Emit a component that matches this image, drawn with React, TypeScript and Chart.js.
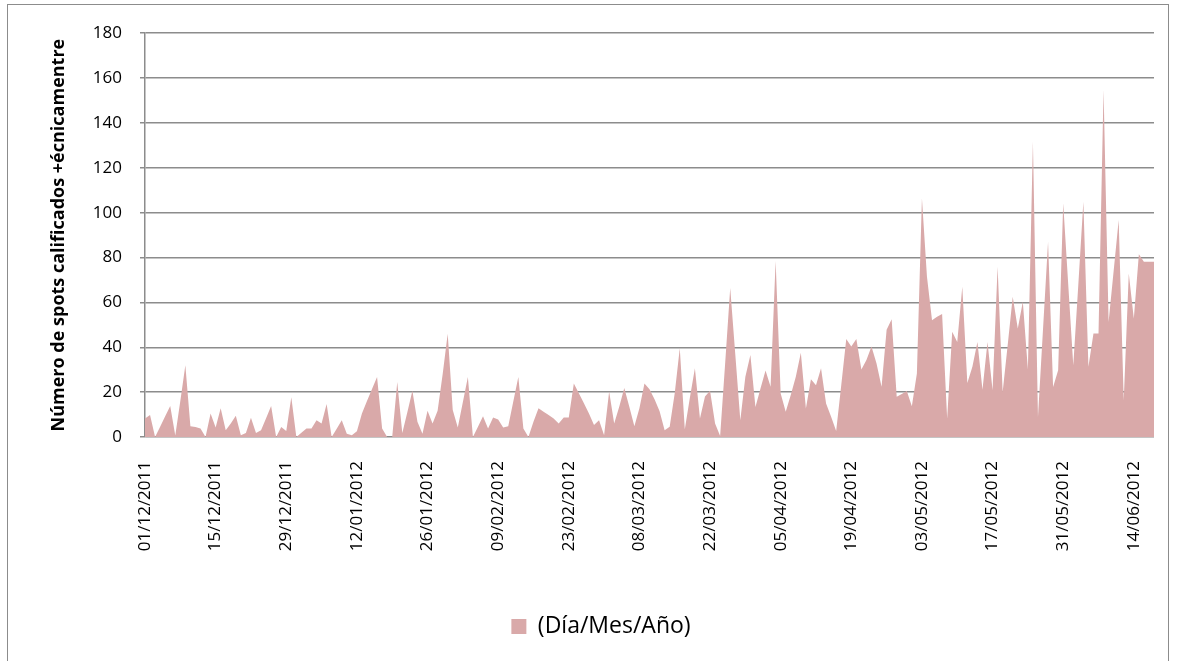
import React, { useEffect, useRef } from 'react';
import { Chart, registerables } from 'chart.js';

Chart.register(...registerables);

// ---- data ----
const startYear = 2011;
const startMonth = 12; // December
const startDay = 1;
const dayCount = 201; // 01/12/2011 .. 18/06/2012
const tickEvery = 14;

const seriesLabel = '(Día/Mes/Año)';
const yAxisTitle = 'Número de spots calificados +écnicamentre';
const yTickValues = [0, 20, 40, 60, 80, 100, 120, 140, 160, 180];

const spots = [
  8.3, 9.8, 0, 4.6, 9.2, 13.8, 0.7, 16, 32, 4.8,
  4.5, 3.8, 0, 10.5, 4.2, 12.8, 3, 6, 9.5, 0.8,
  1.8, 8.6, 1.8, 3, 8.4, 13.8, 0, 4.5, 2.7, 17.7,
  0, 1.9, 3.8, 3.8, 7.5, 6, 14.7, 0, 3.7, 7.5,
  1.5, 0.8, 2.6, 10.5, 16, 21.4, 26.8, 3.8, 0, 0,
  24.5, 1.8, 11, 20.6, 6.8, 1.5, 11.7, 6, 11.7, 28,
  46, 12, 4.2, 15.5, 26.8, 0, 4.6, 9.3, 3.8, 8.7,
  7.8, 4.2, 4.8, 15.8, 26.8, 3.8, 0, 6.8, 12.8, 11.3,
  9.8, 8.3, 6, 8.7, 8.7, 23.8, 19.5, 15, 10.5, 5.3,
  7.5, 0.8, 20.3, 6, 13.5, 21.8, 13.5, 4.8, 12.8, 23.8,
  21.3, 16.8, 11.5, 3, 4.6, 19.5, 39.6, 3.4, 17.5, 30.7,
  8.3, 18, 20.6, 6, 0.5, 33, 66.4, 37, 7.5, 26.9,
  36.6, 13.4, 21.6, 29.6, 22.4, 78.4, 19.4, 11.2, 18.7, 26.9,
  37.6, 12.7, 25.7, 23.1, 30.6, 14.9, 9, 2.7, 23, 43.7,
  40.3, 43.7, 30.1, 34.3, 40.3, 32.8, 22.4, 47.8, 52.5, 17.9,
  19.2, 20.5, 13.7, 28.3, 106.4, 71.4, 52, 53.6, 54.8, 8.2,
  46.9, 42.4, 67, 24.1, 31.3, 42.4, 21.1, 42.4, 20.8, 75.9,
  20.1, 41, 62.5, 48.4, 60.3, 30.1, 131.7, 8.9, 48, 87,
  22.3, 29.8, 104.2, 68, 32, 68, 104.9, 31.3, 46.1, 46.1,
  154.8, 51.3, 74, 96.7, 16.4, 72.9, 52.8, 81.5, 78.1, 78.1,
  78.1,
];

function pad2(n: number) {
  return n < 10 ? '0' + n : String(n);
}

function buildDates(): string[] {
  const out: string[] = [];
  for (let i = 0; i < dayCount; i++) {
    const d = new Date(Date.UTC(startYear, startMonth - 1, startDay + i));
    out.push(pad2(d.getUTCDate()) + '/' + pad2(d.getUTCMonth() + 1) + '/' + d.getUTCFullYear());
  }
  return out;
}

const dates = buildDates();

const FONT = '"Open Sans", "Noto Sans", sans-serif';
const GRID = '#8c8c8c';

export default function App() {
  const ref = useRef<HTMLCanvasElement | null>(null);

  useEffect(() => {
    if (!ref.current) return;
    const chart = new Chart(ref.current, {
      type: 'line',
      data: {
        labels: dates,
        datasets: [
          {
            label: seriesLabel,
            data: spots,
            fill: 'origin',
            backgroundColor: '#D9A9A9',
            borderColor: '#D9A9A9',
            borderWidth: 0,
            pointRadius: 0,
            tension: 0,
          },
        ],
      },
      options: {
        animation: false,
        responsive: false,
        devicePixelRatio: 1,
        layout: { padding: { top: 28, left: 40, right: 14, bottom: 7 } },
        plugins: {
          legend: {
            position: 'bottom',
            labels: {
              boxWidth: 15,
              boxHeight: 15,
              color: '#000',
              font: { family: FONT, size: 23 },
              padding: 8,
            },
          },
          tooltip: { enabled: false },
        },
        scales: {
          x: {
            grid: { display: false },
            border: { display: false },
            ticks: {
              autoSkip: false,
              minRotation: 90,
              maxRotation: 90,
              padding: 16,
              color: '#000',
              font: { family: FONT, size: 17 },
              callback: (_v: any, i: number) => (i % tickEvery === 0 ? dates[i] : ''),
            },
            afterFit: (s: any) => {
              s.height = 170;
              s.paddingLeft = 0;
              s.paddingRight = 0;
            },
          },
          y: {
            min: yTickValues[0],
            max: yTickValues[yTickValues.length - 1],
            ticks: {
              stepSize: yTickValues[1] - yTickValues[0],
              color: '#000',
              font: { family: FONT, size: 17 },
              padding: 18,
            },
            grid: { color: GRID, lineWidth: 1.5, tickLength: 5 },
            border: { color: GRID, width: 1.5 },
            title: {
              display: true,
              text: yAxisTitle,
              color: '#000',
              font: { family: FONT, size: 18, weight: 'bold' },
              padding: 0,
            },
            afterFit: (s: any) => {
              s.width = 97;
            },
          },
        },
      },
    } as any);
    return () => chart.destroy();
  }, []);

  return (
    <div
      style={{
        position: 'absolute',
        left: 7,
        top: 4,
        width: 1162,
        height: 660,
        border: '1px solid #8c8c8c',
        boxSizing: 'border-box',
        background: '#fff',
      }}
    >
      <canvas ref={ref} width={1160} height={650} style={{ position: 'absolute', left: 0, top: 0 }} />
    </div>
  );
}
